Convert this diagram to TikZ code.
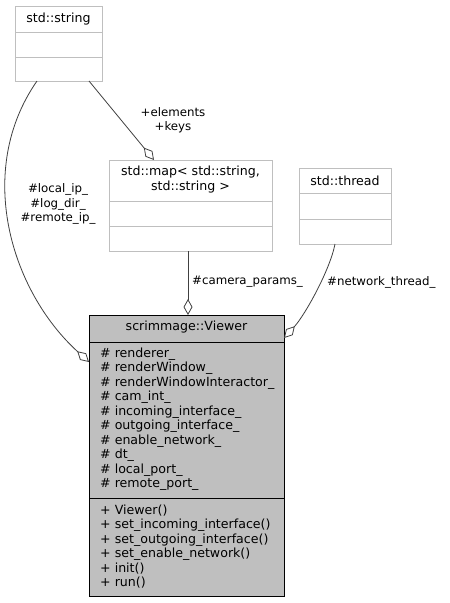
\documentclass[tikz,border=0pt]{standalone}
\usepackage{fontspec}
\setmainfont{DejaVu Sans}
\usetikzlibrary{arrows.meta}

\definecolor{edgegray}{HTML}{404040}
\definecolor{boxgray}{HTML}{BFBFBF}

\tikzset{
  classbox/.style={draw=boxgray, fill=white, line width=0.8pt},
  mainbox/.style={draw=black, fill=boxgray, line width=0.8pt},
  link/.style={draw=edgegray, line width=0.8pt, -{Diamond[open, length=16pt, width=9pt]}},
  lbl/.style={font=\fontsize{12.6}{14.5}\selectfont, inner sep=0pt, align=center},
  edgelbl/.style={font=\fontsize{11.8}{14.5}\selectfont, inner sep=0pt, align=center},
}

\begin{document}
\begin{tikzpicture}[x=1pt, y=-1pt]
  \useasboundingbox (0,0) rectangle (450,603);

  % std::string
  \draw[classbox] (15,6) rectangle (102,81);
  \draw[boxgray, line width=0.8pt] (15,32) -- (102,32) (15,57) -- (102,57);
  \node[lbl] (strname) at (58.5,19) {std::string};

  % std::map
  \draw[classbox] (109,160) rectangle (272,251);
  \draw[boxgray, line width=0.8pt] (109,201) -- (272,201) (109,226) -- (272,226);
  \node[lbl] (mapname) at (190.5,179.5) {std::map< std::string,\\std::string >};

  % std::thread
  \draw[classbox] (299,168) rectangle (391,244);
  \draw[boxgray, line width=0.8pt] (299,193) -- (391,193) (299,219) -- (391,219);
  \node[lbl] (thrname) at (345,181) {std::thread};

  % scrimmage::Viewer
  \draw[mainbox] (89,315) rectangle (284,596);
  \draw[line width=0.8pt] (89,342) -- (284,342) (89,498) -- (284,498);
  \node[lbl] (viewname) at (186.5,327) {scrimmage::Viewer};
  \node[lbl, align=left, anchor=north west] (viewattr) at (100,347.5)
    {\# renderer\_\\\# renderWindow\_\\\# renderWindowInteractor\_\\\# cam\_int\_\\
     \# incoming\_interface\_\\\# outgoing\_interface\_\\\# enable\_network\_\\
     \# dt\_\\\# local\_port\_\\\# remote\_port\_};
  \node[lbl, align=left, anchor=north west] (viewops) at (100,504.5)
    {+ Viewer()\\+ set\_incoming\_interface()\\+ set\_outgoing\_interface()\\
     + set\_enable\_network()\\+ init()\\+ run()};

  \coordinate (strL) at (37,81);
  \coordinate (strR) at (89,81);
  \coordinate (mapT) at (154,160);
  \coordinate (mapB) at (188,251);
  \coordinate (thrB) at (335,244);
  \coordinate (viewL) at (89,362);
  \coordinate (viewT) at (188,315);
  \coordinate (viewR) at (284,338);

  \draw[link] (strL) .. controls (-25,170) and (10,290) .. (viewL);
  \draw[link] (strR) -- (mapT);
  \draw[link] (mapB) -- (viewT);
  \draw[link] (thrB) .. controls (330,270) and (305,315) .. (viewR);

  \node[edgelbl] (ipvars) at (58,204) {\#local\_ip\_\\\#log\_dir\_\\\#remote\_ip\_};
  \node[edgelbl] (mapvars) at (173,120) {+elements\\+keys};
  \node[edgelbl, anchor=west] (camvar) at (192,282) {\#camera\_params\_};
  \node[edgelbl, anchor=west] (netvar) at (327,282) {\#network\_thread\_};
\end{tikzpicture}
\end{document}
